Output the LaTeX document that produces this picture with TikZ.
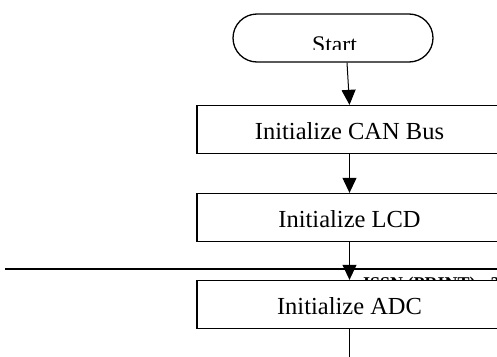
\documentclass[tikz,border=0pt]{standalone}
\usepackage{fontspec}
\setmainfont{Liberation Serif}
\usetikzlibrary{arrows.meta}
\begin{document}
\begin{tikzpicture}[x=1pt,y=-1pt,
  stepbox/.style={draw=black,line width=1.3pt,fill=white,minimum width=305pt,minimum height=48pt,
    inner sep=0pt,text height=20.5pt,text depth=0pt,font=\fontsize{24.5}{29}\selectfont},
  termbox/.style={draw=black,line width=1.3pt,fill=white,rounded corners=24pt,minimum width=200pt,minimum height=48pt,inner sep=0pt},
  flow/.style={draw=black,line width=1pt,-{Triangle[width=14pt,length=15pt]}},
  rulerline/.style={draw=black,line width=2pt}]
\useasboundingbox (0,0) rectangle (497,356);
\clip (0,0) rectangle (497,356);
\fill[white] (0,0) rectangle (497,356);
% terminal
\node[termbox] (start) at (333,38) {};
\begin{scope}
  \clip (240,20) rectangle (430,49);
  \node[anchor=base,inner sep=0pt,font=\fontsize{23.8}{28}\selectfont] (starttext) at (334.5,52.8) {Start};
\end{scope}
% boxes
\node[stepbox] (can) at (349.5,129.5) {Initialize CAN Bus};
\node[stepbox] (lcd) at (349.5,217.5) {Initialize LCD};
% horizontal rule and header text behind box 3
\coordinate (ruleL) at (5,269);
\coordinate (ruleR) at (500,269);
\draw[rulerline] (ruleL) -- (ruleR);
\node[anchor=north west,inner sep=0pt,font=\fontsize{18}{22}\selectfont\bfseries] (issn) at (363,277) {ISSN (PRINT) : 2320};
\node[stepbox] (adc) at (349.5,304.5) {Initialize ADC};
\coordinate (bottomend) at (349.5,362);
% connectors
\draw[flow] ([xshift=14pt]start.south) -- (can.north);
\draw[flow] (can.south) -- (lcd.north);
\draw[flow] (lcd.south) -- (adc.north);
\draw[line width=1pt] (adc.south) -- (bottomend);
\end{tikzpicture}
\end{document}
